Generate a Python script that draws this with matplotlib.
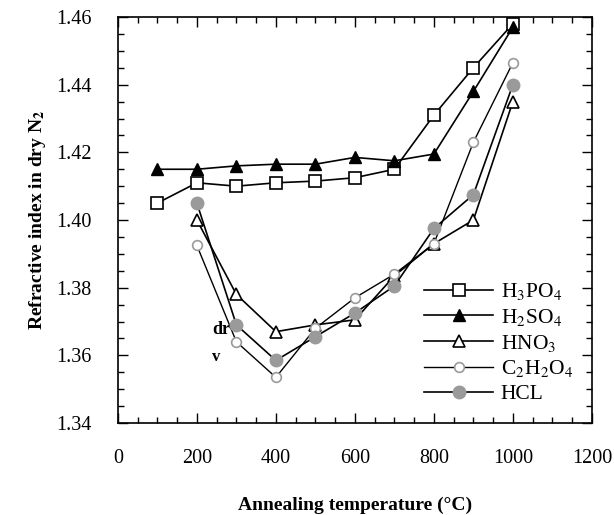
import matplotlib
matplotlib.use("Agg")
import matplotlib.pyplot as plt
from matplotlib.ticker import MultipleLocator

temps = [100, 200, 300, 400, 500, 600, 700, 800, 900, 1000]
temps2 = [200, 300, 400, 500, 600, 700, 800, 900, 1000]
h3po4 = [1.405, 1.411, 1.410, 1.411, 1.4115, 1.4125, 1.415, 1.431, 1.445, 1.458]
h2so4 = [1.415, 1.415, 1.416, 1.4165, 1.4165, 1.4185, 1.4175, 1.4195, 1.438, 1.457]
hno3 = [1.400, 1.378, 1.367, 1.369, 1.3705, 1.3835, 1.393, 1.400, 1.435]
c2h2o4 = [1.3925, 1.364, 1.3535, 1.368, 1.377, 1.384, 1.393, 1.423, 1.4465]
hcl = [1.405, 1.369, 1.3585, 1.3655, 1.3725, 1.3805, 1.3975, 1.4075, 1.440]

x_ticks = [0, 200, 400, 600, 800, 1000, 1200]
y_ticks = [1.34, 1.36, 1.38, 1.40, 1.42, 1.44, 1.46]

plt.rcParams['font.family'] = ['Liberation Serif', 'DejaVu Serif']
plt.rcParams['mathtext.fontset'] = 'stix'

fig = plt.figure(figsize=(6.14, 5.15), dpi=100)
ax = fig.add_axes([0.192, 0.1786, 0.772, 0.7884])

grey = '#9a9a9a'
ax.plot(temps, h3po4, '-', color='black', lw=1.2, marker='s', ms=8.5,
        mfc='white', mec='black', mew=1.2, label='H$_3$PO$_4$', zorder=3)
ax.plot(temps, h2so4, '-', color='black', lw=1.2, marker='^', ms=9,
        mfc='black', mec='black', label='H$_2$SO$_4$', zorder=3)
ax.plot(temps2, hno3, '-', color='black', lw=1.2, marker='^', ms=9,
        mfc='white', mec='black', mew=1.2, label='HNO$_3$', zorder=3)
ax.plot(temps2, c2h2o4, '-', color='black', lw=1.0, marker='o', ms=7,
        mfc='white', mec=grey, mew=1.2, label='C$_2$H$_2$O$_4$', zorder=3)
ax.plot(temps2, hcl, '-', color='black', lw=1.2, marker='o', ms=9,
        mfc=grey, mec=grey, label='HCL', zorder=4)

ax.set_xlim(0, 1200)
ax.set_ylim(1.34, 1.46)
ax.set_xticks(x_ticks)
ax.set_yticks(y_ticks)
ax.set_yticklabels([f"{v:.2f}" for v in y_ticks])
ax.xaxis.set_minor_locator(MultipleLocator(50))
ax.yaxis.set_minor_locator(MultipleLocator(0.005))
ax.tick_params(which='both', direction='in', top=True, right=True, width=1.0)
ax.tick_params(which='major', length=7, labelsize=14.5, pad=19)
ax.tick_params(which='minor', length=4)
for s in ax.spines.values():
    s.set_linewidth(1.2)

ax.set_xlabel('Annealing temperature (°C)', fontsize=14, fontweight='bold', labelpad=20)
ax.set_ylabel('Refractive index in dry N$_\\mathbf{2}$', fontsize=14, fontweight='bold', labelpad=6)

ax.text(262, 1.3675, 'dr', fontsize=13, fontweight='bold', ha='center', va='center', zorder=2)
ax.text(250, 1.3595, 'v', fontsize=12, fontweight='bold', ha='center', va='center', zorder=2)

leg = ax.legend(loc='lower right', bbox_to_anchor=(0.979, 0.025), frameon=False,
                fontsize=15.5, handlelength=3.2, handletextpad=0.35, labelspacing=0.22,
                borderaxespad=0)

fig.savefig('out.png', dpi=100)
